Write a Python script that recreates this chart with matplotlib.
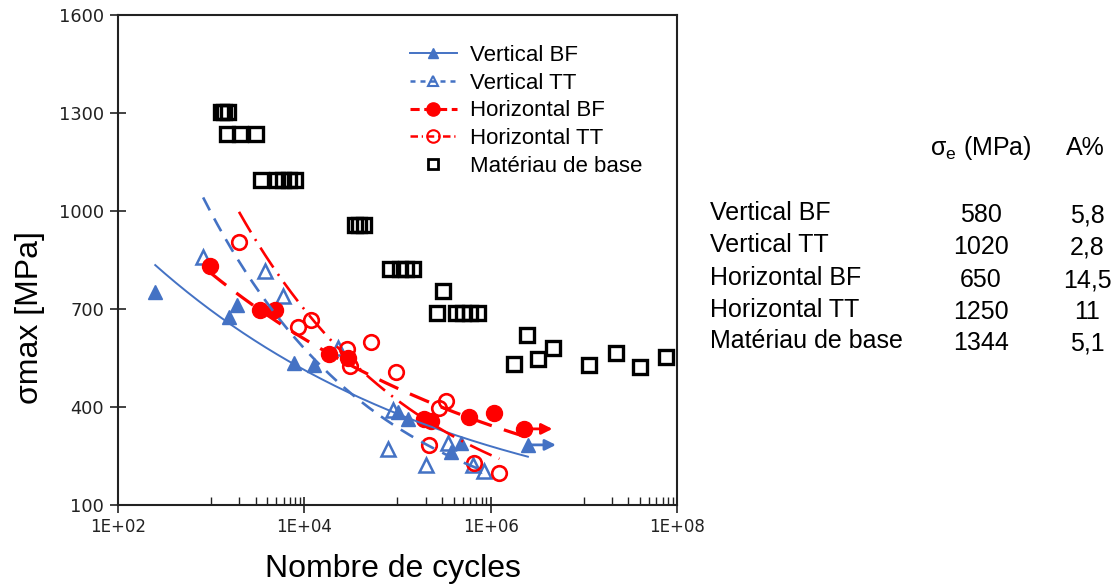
import numpy as np
import matplotlib
matplotlib.use("Agg")
import matplotlib.pyplot as plt
from matplotlib.lines import Line2D
from matplotlib.ticker import FixedLocator, NullFormatter
from matplotlib.font_manager import FontProperties

# ---------------- data ----------------
base_N = [1270, 1390, 1510, 1490, 2040, 3030, 3420, 5030, 5860, 6850, 7990,
          34900, 38900, 43300, 83500, 106900, 123900, 147500,
          267000, 425600, 508500, 605000, 728000, 310000,
          1.80e6, 2.46e6, 3.24e6, 4.72e6, 1.13e7, 2.24e7, 3.99e7, 7.6e7]
base_S = [1302, 1302, 1302, 1235, 1235, 1235, 1095, 1095, 1095, 1095, 1095,
          957, 957, 957, 823, 823, 823, 823,
          687, 687, 687, 687, 687, 756,
          533, 620, 548, 580, 529, 564, 523, 552]

vbf_N = [251, 1550, 1910, 7750, 12700, 100500, 128800, 376000, 481600, 2.51e6]
vbf_S = [753, 676, 712, 535, 530, 386, 363, 263, 290, 284]

vtt_N = [820, 3780, 5950, 23000, 89900, 78500, 203600, 346700, 644000, 841000]
vtt_S = [858, 816, 741, 580, 391, 271, 222, 289, 222, 205]

hbf_N = [968, 3340, 4840, 18400, 29500, 193600, 228600, 590000, 1.096e6, 2.30e6]
hbf_S = [832, 697, 697, 562, 551, 363, 356, 370, 381, 333]

htt_N = [1990, 8550, 11800, 28800, 31000, 51900, 96800, 219000, 280700, 334000, 668000, 1.24e6]
htt_S = [906, 644, 666, 578, 526, 598, 506, 284, 398, 418, 230, 198]

series_labels = ["Vertical BF", "Vertical TT", "Horizontal BF", "Horizontal TT", "Matériau de base"]
x_ticks = [1e2, 1e4, 1e6, 1e8]
x_tick_labels = ["1E+02", "1E+04", "1E+06", "1E+08"]
y_ticks = [100, 400, 700, 1000, 1300, 1600]

table_rows = ["Vertical BF", "Vertical TT", "Horizontal BF", "Horizontal TT", "Matériau de base"]
table_sigma = ["580", "1020", "650", "1250", "1344"]
table_A = ["5,8", "2,8", "14,5", "11", "5,1"]

# ---------------- style ----------------
BLUE = "#4472C4"
RED = "#FF0000"
W, H = 1115, 586
arial = "Liberation Sans"

fig = plt.figure(figsize=(W / 100, H / 100), dpi=100)
ax = fig.add_axes([118 / W, 1 - 505 / H, (677 - 118) / W, (505 - 15) / H])
ax.set_xscale("log")


def power_fit(N, S):
    N = np.asarray(N, float)
    S = np.asarray(S, float)
    b, a = np.polyfit(np.log(N), np.log(S), 1)
    xx = np.geomspace(N.min(), N.max(), 200)
    return xx, np.exp(a) * xx ** b


# markers
ax.plot(base_N, base_S, ls="none", marker="s", ms=9.5, mfc="none", mec="black", mew=2.4, zorder=3)
ax.plot(vbf_N, vbf_S, ls="none", marker="^", ms=10, mfc=BLUE, mec=BLUE, zorder=3)
ax.plot(vtt_N, vtt_S, ls="none", marker="^", ms=10, mfc="none", mec=BLUE, mew=1.8, zorder=3)
ax.plot(hbf_N, hbf_S, ls="none", marker="o", ms=11.5, mfc=RED, mec=RED, zorder=3)
ax.plot(htt_N, htt_S, ls="none", marker="o", ms=10.5, mfc="none", mec=RED, mew=1.9, zorder=3)

# power-law trend lines fitted on data
x, y = power_fit(vbf_N, vbf_S)
ax.plot(x, y, color=BLUE, lw=1.4, zorder=4)
x, y = power_fit(vtt_N, vtt_S)
ax.plot(x, y, color=BLUE, lw=1.9, ls=(0, (5.5, 3.5)), zorder=4)
x, y = power_fit(hbf_N, hbf_S)
ax.plot(x, y, color=RED, lw=2.3, ls=(0, (6.5, 4)), zorder=4)
x, y = power_fit(htt_N, htt_S)
ax.plot(x, y, color=RED, lw=1.9, ls=(0, (9, 3, 0.8, 3)), zorder=4)

# run-out arrows
for N, S, c in [(vbf_N[-1], vbf_S[-1], BLUE), (hbf_N[-1], hbf_S[-1], RED)]:
    ax.annotate("", xy=(N * 2.0, S), xytext=(N, S),
                arrowprops=dict(arrowstyle="-|>", color=c, lw=2, mutation_scale=16,
                                shrinkA=0, shrinkB=0), zorder=5)

# axes
ax.set_xlim(1e2, 1e8)
ax.set_ylim(100, 1600)
ax.set_xticks(x_ticks)
ax.set_xticklabels(x_tick_labels)
ax.xaxis.set_minor_locator(FixedLocator([m * 10.0 ** k for k in (3, 5, 7) for m in range(1, 10)]))
ax.xaxis.set_minor_formatter(NullFormatter())
ax.set_yticks(y_ticks)
ax.yaxis.set_minor_locator(FixedLocator([]))
ax.tick_params(axis="both", which="major", direction="inout", length=12, width=1.2,
               labelsize=12, colors="#222222")
ax.tick_params(axis="y", which="major", labelsize=12.8, pad=4)
ax.tick_params(axis="x", which="major", pad=3)
ax.tick_params(axis="x", which="minor", direction="in", length=5.5, width=1, colors="#222222")
for sp in ax.spines.values():
    sp.set_linewidth(1.5)
    sp.set_color("#222222")

fig.text(393 / W, 1 - 577 / H, "Nombre de cycles", ha="center", va="baseline",
         fontsize=23, family=arial)
fig.text(30 / W, 1 - 318 / H, "σmax [MPa]", ha="center", va="center", rotation=90,
         fontsize=23, family=arial)

# legend
handles = [
    Line2D([], [], color=BLUE, lw=1.4, marker="^", ms=7.5, mfc=BLUE, mec=BLUE),
    Line2D([], [], color=BLUE, lw=1.8, ls=(0, (2, 2)), marker="^", ms=7.5, mfc="none", mec=BLUE, mew=1.5),
    Line2D([], [], color=RED, lw=2.2, ls=(0, (3, 1.5)), marker="o", ms=9.5, mfc=RED, mec=RED),
    Line2D([], [], color=RED, lw=1.8, ls=(0, (3, 1.5, 0.5, 1.5)), marker="o", ms=9, mfc="none", mec=RED, mew=1.5),
    Line2D([], [], ls="none", marker="s", ms=7, mfc="none", mec="black", mew=2),
]
ax.legend(handles, series_labels, loc="upper left", bbox_to_anchor=(410 / W, 1 - 45 / H),
          bbox_transform=fig.transFigure, frameon=False,
          prop=FontProperties(family=arial, size=16), handlelength=2.1, handletextpad=0.6,
          labelspacing=0.3, borderpad=0, borderaxespad=0)

# table
tfont = dict(family=arial, fontsize=18)
fig.text(981 / W, 1 - 155 / H, r"$\mathregular{\sigma_e}$ (MPa)", ha="center", va="baseline", **tfont)
fig.text(1085 / W, 1 - 155 / H, "A%", ha="center", va="baseline", **tfont)
baselines = [220, 252, 285, 317, 348]
for lab, s, a, yb in zip(table_rows, table_sigma, table_A, baselines):
    fig.text(710 / W, 1 - yb / H, lab, ha="left", va="baseline", **tfont)
    fig.text(981 / W, 1 - (yb + 2) / H, s, ha="center", va="baseline", **tfont)
    fig.text(1087 / W, 1 - (yb + 2) / H, a, ha="center", va="baseline", **tfont)

fig.savefig("out.png", dpi=100)
